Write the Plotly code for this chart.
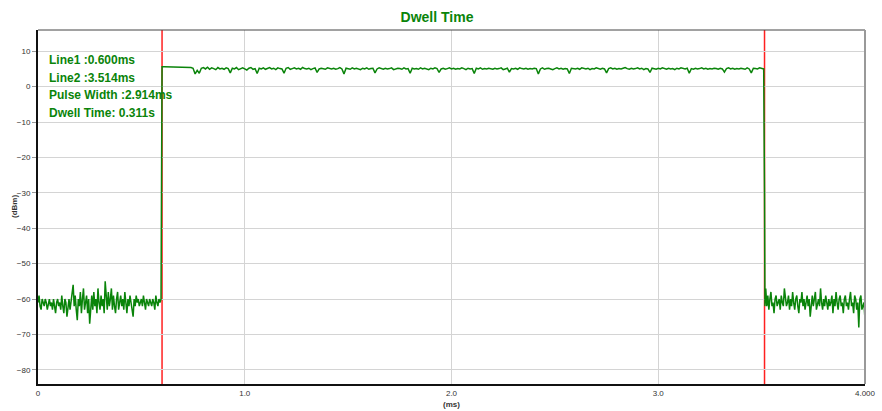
import numpy as np
import plotly.graph_objects as go

# ---- data ----
noise_left_start, noise_left_step = 0.0, 0.005
noise_left = [
    -61, -59, -62, -63, -60, -61, -62, -60, -61, -63,
    -61, -60, -62, -61, -63, -60, -62, -64, -61, -60,
    -62, -61, -63, -59, -62, -64, -60, -61, -65, -62,
    -60, -63, -61, -58, -56, -62, -59, -63, -66, -60,
    -62, -58, -64, -60, -57, -63, -61, -59, -64, -60,
    -67, -61, -59, -63, -58, -62, -60, -64, -57, -61,
    -63, -59, -62, -60, -64, -55, -61, -63, -58, -62,
    -60, -57, -63, -59, -62, -64, -60, -58, -63, -61,
    -59, -62, -60, -63, -58, -61, -64, -60, -62, -59,
    -61, -63, -65, -60, -62, -59, -61, -60, -62, -61,
    -60, -62, -59, -61, -63, -60, -61, -62, -60, -61,
    -62, -60, -61, -63, -59, -61, -62, -60, -61, -60,
]
rise_x = [0.598]
rise_y = [-27]

pulse_start, pulse_step = 0.60, 0.01
pulse = [
    5.6, 5.6, 5.6, 5.6, 5.6, 5.6, 5.6, 5.6, 5.6, 5.6,
    5.6, 5.6, 5.6, 5.5, 5.4, 5.2, 3.6, 4.6, 3.8, 5.2,
    5.4, 5.0, 5.5, 4.9, 5.3, 5.1, 4.8, 5.4, 5.0, 5.2,
    4.9, 5.3, 5.1, 3.9, 5.2, 5.0, 5.4, 4.8, 5.1, 5.3,
    5.0, 4.7, 5.2, 5.4, 4.9, 5.1, 3.7, 5.2, 5.0, 5.3,
    4.9, 5.1, 5.4, 5.0, 5.2, 4.8, 5.3, 5.1, 5.0, 3.8,
    5.2, 5.4, 4.9, 5.1, 5.3, 5.0, 5.2, 4.9, 5.4, 5.1,
    5.0, 5.2, 4.8, 5.1, 5.3, 4.0, 5.0, 5.2, 5.1, 4.9,
    5.3, 5.1, 5.0, 5.2, 4.9, 5.1, 5.4, 5.0, 3.6, 5.2,
    5.1, 4.9, 5.3, 5.0, 5.2, 5.1, 4.8, 5.2, 5.0, 5.3,
    4.9, 5.1, 5.2, 3.9, 5.0, 5.3, 5.1, 4.9, 5.2, 5.0,
    5.1, 5.3, 4.8, 5.0, 5.2, 5.1, 4.9, 5.3, 5.0, 5.1,
    3.8, 5.2, 5.0, 5.1, 4.9, 5.3, 5.0, 5.2, 5.1, 4.8,
    5.2, 5.0, 5.3, 5.1, 4.0, 5.0, 5.2, 4.9, 5.1, 5.3,
    5.0, 5.2, 4.9, 5.1, 5.0, 5.3, 5.1, 4.8, 5.2, 5.0,
    5.1, 3.7, 5.2, 5.0, 5.3, 4.9, 5.1, 5.0, 5.2, 5.1,
    4.9, 5.2, 5.0, 5.1, 5.3, 4.8, 5.0, 5.2, 4.1, 5.1,
    5.0, 5.2, 4.9, 5.3, 5.1, 5.0, 5.2, 4.9, 5.1, 5.0,
    5.2, 5.1, 3.6, 5.0, 5.3, 4.9, 5.1, 5.2, 5.0, 4.8,
    5.1, 5.3, 5.0, 5.2, 4.9, 5.1, 5.0, 3.7, 5.2, 5.1,
    5.0, 5.2, 4.9, 5.3, 5.1, 5.0, 5.2, 4.8, 5.1, 5.0,
    5.3, 5.1, 4.9, 5.2, 5.0, 3.9, 5.1, 5.3, 5.0, 5.2,
    4.9, 5.1, 5.0, 5.2, 5.4, 5.1, 4.9, 5.2, 5.0, 5.1,
    5.3, 5.0, 5.2, 4.8, 5.1, 5.0, 4.0, 5.2, 5.1, 4.9,
    5.2, 5.0, 5.3, 5.1, 4.9, 5.2, 5.0, 5.1, 4.8, 5.2,
    5.0, 5.3, 5.1, 5.0, 5.2, 3.8, 5.1, 4.9, 5.2, 5.0,
    5.1, 5.3, 5.0, 5.2, 4.9, 5.1, 5.0, 5.2, 5.1, 4.9,
    5.2, 5.0, 4.1, 5.1, 5.3, 5.0, 5.2, 4.9, 5.1, 5.0,
    5.2, 5.1, 4.9, 5.3, 5.0, 3.9, 5.2, 5.1, 5.0, 5.3,
    5.1, 5.0,
]
fall_x = [3.514, 3.516]
fall_y = [-30, -62]

noise_right_start, noise_right_step = 3.52, 0.005
noise_right = [
    -57, -62, -59, -63, -60, -58, -62, -61, -64, -60,
    -59, -62, -61, -60, -63, -59, -61, -62, -57, -60,
    -62, -61, -59, -63, -60, -62, -58, -61, -63, -60,
    -59, -62, -64, -60, -61, -58, -62, -60, -63, -61,
    -59, -62, -60, -65, -61, -59, -62, -60, -58, -63,
    -61, -60, -62, -57, -61, -63, -60, -62, -59, -61,
    -63, -60, -62, -61, -59, -64, -60, -62, -58, -61,
    -63, -60, -59, -62, -61, -64, -60, -59, -62, -61,
    -63, -60, -58, -62, -61, -64, -59, -60, -63, -61,
    -68, -60, -59, -63, -62, -61, -66,
]

markers = [0.600, 3.514]
marker_labels = ["Line1 :0.600ms", "Line2 :3.514ms", "Pulse Width :2.914ms", "Dwell Time: 0.311s"]
x_tickvals = [0, 1.0, 2.0, 3.0, 4.0]
x_ticktext = ["0", "1.0", "2.0", "3.0", "4.000"]
y_tickvals = [10, 0, -10, -20, -30, -40, -50, -60, -70, -80]

# ---- build series ----
xl = noise_left_start + noise_left_step * np.arange(len(noise_left))
xp = pulse_start + pulse_step * np.arange(len(pulse))
xr = noise_right_start + noise_right_step * np.arange(len(noise_right))
x_all = np.concatenate([xl, rise_x, xp, fall_x, xr])
y_all = np.concatenate([noise_left, rise_y, pulse, fall_y, noise_right])

GREEN = "#0a840a"
FONT = "Liberation Sans, Arial"
fig = go.Figure()
fig.add_trace(go.Scatter(x=x_all, y=y_all, mode="lines",
                         line=dict(color=GREEN, width=1.5), showlegend=False,
                         hoverinfo="skip"))

shapes = []
for m in markers:
    shapes.append(dict(type="line", xref="x", yref="paper", x0=m, x1=m, y0=0, y1=1,
                       line=dict(color="#ff2020", width=1.5), layer="below"))
# top and right borders
shapes.append(dict(type="line", xref="paper", yref="paper", x0=0, x1=1, y0=1, y1=1,
                   line=dict(color="#444444", width=1)))
shapes.append(dict(type="line", xref="paper", yref="paper", x0=1, x1=1, y0=0, y1=1,
                   line=dict(color="#999999", width=2)))

annotations = []
for i, t in enumerate(marker_labels):
    annotations.append(dict(xref="paper", yref="paper", x=0.011, y=0.916 - i * 0.0505,
                            xanchor="left", yanchor="middle", text="<b>%s</b>" % t,
                            showarrow=False,
                            font=dict(family=FONT, size=12, color=GREEN)))
annotations.append(dict(xref="paper", yref="paper", x=0.5, y=-0.058, xanchor="center",
                        yanchor="middle", text="<b>(ms)</b>", showarrow=False,
                        font=dict(family=FONT, size=8, color="#333333")))
annotations.append(dict(xref="paper", yref="paper", x=-0.029, y=0.5, xanchor="center",
                        yanchor="middle", text="<b>(dBm)</b>", showarrow=False, textangle=-90,
                        font=dict(family=FONT, size=8, color="#333333")))

fig.update_layout(
    width=882, height=411,
    margin=dict(l=38, r=17, t=30, b=27),
    paper_bgcolor="white", plot_bgcolor="white",
    title=dict(text="<b>Dwell Time</b>", x=0.4955, xanchor="center", y=0.958, yanchor="middle",
               font=dict(family=FONT, size=14, color=GREEN)),
    xaxis=dict(range=[0, 4.0], tickvals=x_tickvals, ticktext=x_ticktext, automargin=False,
               showgrid=True, gridcolor="#d4d4d4", gridwidth=1, zeroline=False,
               showline=True, linecolor="#111111", linewidth=2,
               ticks="", tickfont=dict(family=FONT, size=8, color="#333333")),
    yaxis=dict(range=[-84, 16], tickvals=y_tickvals, automargin=False,
               showgrid=True, gridcolor="#d4d4d4", gridwidth=1, zeroline=False,
               showline=True, linecolor="#111111", linewidth=2,
               ticks="outside", ticklen=4, tickcolor="#999999", tickwidth=1,
               tickfont=dict(family=FONT, size=8, color="#333333")),
    shapes=shapes, annotations=annotations,
    font=dict(family=FONT),
)

fig.write_html("out.html", config={"displayModeBar": False},
               post_script="document.body.style.margin='0px';document.body.style.overflow='hidden';")
